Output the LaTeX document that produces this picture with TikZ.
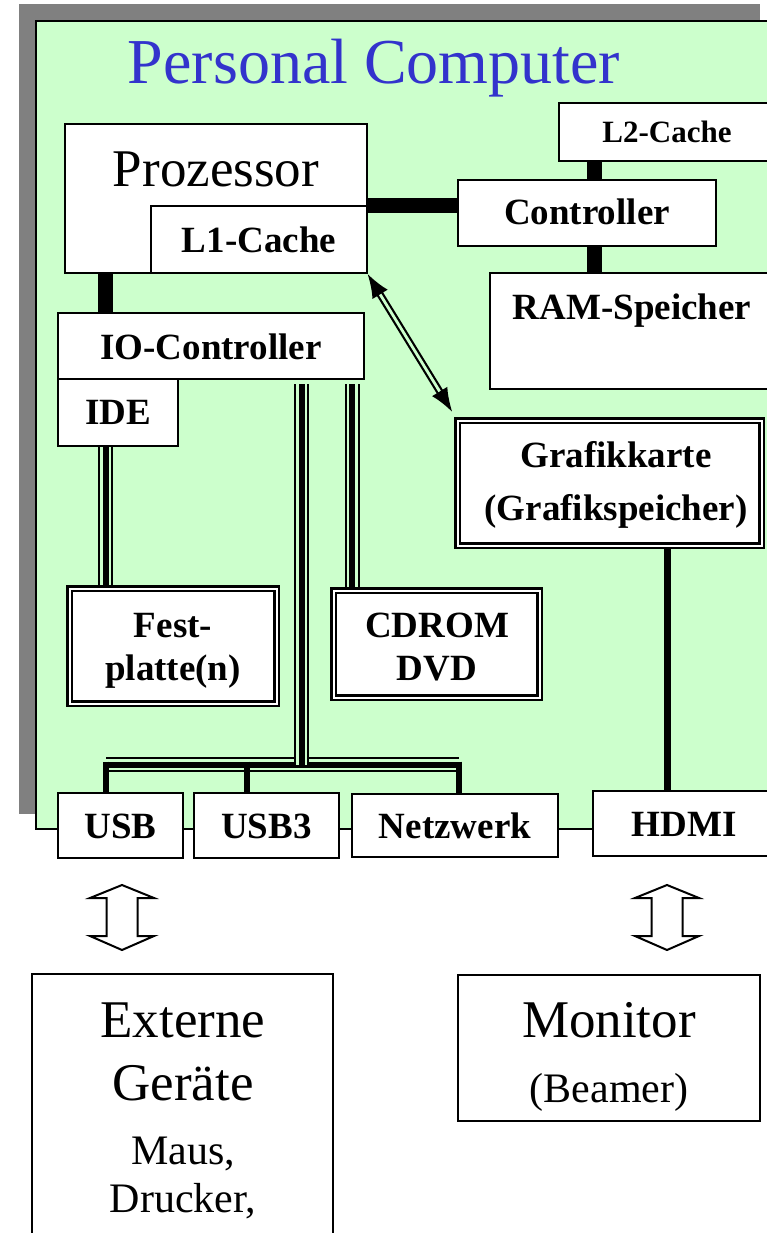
\documentclass[tikz,border=0pt]{standalone}
\usepackage{fontspec}
\setmainfont{Liberation Serif}
\usetikzlibrary{arrows.meta,calc}
\definecolor{pcgreen}{HTML}{CCFFCC}
\definecolor{pcblue}{HTML}{3333CC}
\definecolor{pcgray}{HTML}{808080}
\newcommand{\fsz}[1]{\fontsize{#1}{#1}\selectfont}
\pgfdeclarelayer{back}
\pgfdeclarelayer{conn}
\pgfsetlayers{back,conn,main}
\tikzset{
  pics/updown/.style={code={
    \draw[line width=2pt, fill=white] (0,-32.5) -- (32,-19.5) -- (15.5,-19.5) -- (15.5,18.5) -- (32,18.5)
      -- (0,32.5) -- (-32,18.5) -- (-15.5,18.5) -- (-15.5,-19.5) -- (-32,-19.5) -- cycle;}}
}
\begin{document}
\begin{tikzpicture}[x=1pt,y=-1pt,
  box/.style={draw=black, fill=white, line width=2pt, inner sep=0pt, outer sep=0pt, rectangle},
  dbox/.style={draw=black, fill=white, line width=2.5pt, double=white, double distance=2pt, inner sep=0pt, outer sep=0pt, rectangle},
  lbl/.style={inner sep=0pt, anchor=base, font=\fsz{37}\bfseries},
  slbl/.style={inner sep=0pt, anchor=base, font=\fsz{31}\bfseries},
  big/.style={inner sep=0pt, anchor=base, font=\fsz{53}},
  mid/.style={inner sep=0pt, anchor=base, font=\fsz{42}},
  ttl/.style={inner sep=0pt, anchor=base, font=\fsz{64}, text=pcblue},
  bar/.style={draw=black, line width=15pt},
  leg/.style={draw=black, line width=6pt},
  hleg/.style={draw=black, line width=7pt},
  triple/.style={draw=black, line width=15pt, postaction={draw=pcgreen, line width=11pt}, postaction={draw=black, line width=6pt}},
  dblarrow/.style={draw=black, line width=2.2pt, double=pcgreen, double distance=2.8pt,
     {Latex[length=24pt,width=18pt]}-{Latex[length=24pt,width=18pt]}, shorten <=1pt, shorten >=10pt}
]
\useasboundingbox (0,0) rectangle (766,1233);
\begin{pgfonlayer}{back}
  \fill[white] (0,0) rectangle (766,1233);
  \fill[pcgray] (19,4) rectangle (760,814);
  \draw[fill=pcgreen, line width=2pt] (36,21) rectangle (777,829);
\end{pgfonlayer}

% title
\node[ttl] (title) at (374,84) {Personal Computer};

% boxes
\node[box, minimum width=302pt, minimum height=149pt] (proc) at (216,198.5) {};
\node[box, minimum width=216pt, minimum height=67pt] (l1) at (259,239.5) {};
\node[box, minimum width=217pt, minimum height=58pt] (l2) at (667.5,132) {};
\node[box, minimum width=258pt, minimum height=66pt] (ctrl) at (587,213) {};
\node[box, minimum width=286pt, minimum height=116pt] (ram) at (633,331) {};
\node[box, minimum width=306pt, minimum height=66pt] (io) at (211,346) {};
\node[box, minimum width=120pt, minimum height=67pt] (ide) at (118,412.5) {};
\node[dbox, minimum width=207pt, minimum height=115pt] (fp) at (173,646) {};
\node[dbox, minimum width=206pt, minimum height=107pt] (cd) at (436.5,644) {};
\node[dbox, minimum width=304pt, minimum height=125pt] (graf) at (609.5,483) {};
\node[box, minimum width=125pt, minimum height=65pt] (usb) at (120.5,825.5) {};
\node[box, minimum width=145pt, minimum height=65pt] (usb3) at (266.5,825.5) {};
\node[box, minimum width=206pt, minimum height=63pt] (net) at (455,825.5) {};
\node[box, minimum width=183pt, minimum height=65pt] (hdmi) at (684.5,823.5) {};
\node[box, minimum width=301pt, minimum height=286pt] (ext) at (182.5,1117) {};
\node[box, minimum width=302pt, minimum height=146pt] (mon) at (609,1048) {};

% texts
\node[big] (tproc) at (216,187) {Prozessor};
\node[lbl] (tl1) at (259,252) {L1-Cache};
\node[slbl] (tl2) at (667,143) {L2-Cache};
\node[lbl] (tctrl) at (587,225) {Controller};
\node[lbl] (tram) at (632,319) {RAM-Speicher};
\node[lbl] (tio) at (211,359) {IO-Controller};
\node[lbl] (tide) at (118,424) {IDE};
\node[lbl] (tgraf1) at (616,467) {Grafikkarte};
\node[lbl] (tgraf2) at (616,520) {(Grafikspeicher)};
\node[lbl] (tfp1) at (173,637) {Fest-};
\node[lbl] (tfp2) at (173,680) {platte(n)};
\node[lbl] (tcd1) at (437,637) {CDROM};
\node[lbl] (tcd2) at (437,680) {DVD};
\node[lbl] (tusb) at (120.5,838) {USB};
\node[lbl] (tusb3) at (266.5,838) {USB3};
\node[lbl] (tnet) at (455,838) {Netzwerk};
\node[lbl] (thdmi) at (684,836) {HDMI};
\node[big] (text1) at (183,1037) {Externe};
\node[big] (text2) at (183,1100) {Geräte};
\node[mid] (text3) at (183,1164) {Maus,};
\node[mid] (text4) at (183,1212) {Drucker,};
\node[big] (tmon1) at (609,1037) {Monitor};
\node[mid] (tmon2) at (609,1102) {(Beamer)};

% helper coordinates
\coordinate (xa) at (105.5,0);
\coordinate (xb) at (594,0);
\coordinate (xc) at (301.5,0);
\coordinate (xd) at (352,0);
\coordinate (xh) at (667,0);
\coordinate (bl) at (106,764.5);
\coordinate (bm) at (247,764.5);
\coordinate (br) at (458.5,764.5);

\begin{pgfonlayer}{conn}
  \draw[bar] (l1.north east) -- (l1.north east -| ctrl.west);
  \draw[bar] (l2.south -| xb) -- (ctrl.north -| xb);
  \draw[bar] (ctrl.south -| xb) -- (ram.north -| xb);
  \draw[bar] (proc.south -| xa) -- (io.north -| xa);
  \draw[triple] (ide.south -| xa) -- (fp.north -| xa);
  \draw[triple] ([yshift=-5pt]io.south -| xd) -- (cd.north -| xd);
  \draw[triple] (bl) -- (br);
  \draw[triple] ([yshift=-5pt]io.south -| xc) -- (bl -| xc);
  \draw[leg] ([yshift=3pt]bl) -- (usb.north -| bl);
  \draw[leg] ([yshift=3pt]bm) -- (usb3.north -| bm);
  \draw[leg] ([yshift=3pt]br) -- (net.north -| br);
  \draw[hleg] (graf.south -| xh) -- (hdmi.north -| xh);
\end{pgfonlayer}

% double arrow L1 <-> Grafikkarte
\draw[dblarrow] (l1.south east) -- (graf.north west);

% open up-down arrows
\coordinate (arr1) at (122,917.5);
\coordinate (arr2) at (667,917.5);
\pic at (arr1) {updown};
\pic at (arr2) {updown};
\end{tikzpicture}
\end{document}
